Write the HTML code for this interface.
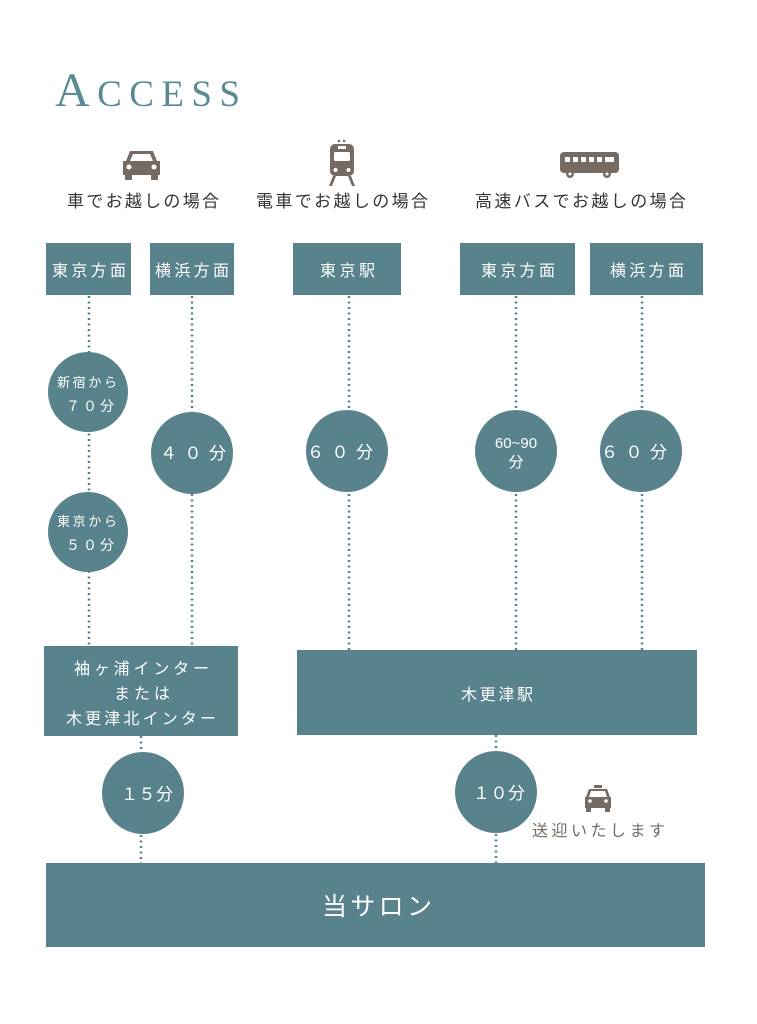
<!DOCTYPE html>
<html><head><meta charset="utf-8"><style>
html,body{margin:0;padding:0;background:#fff;}
svg{display:block}
text{font-family:"Liberation Sans","Noto Sans CJK JP",sans-serif;}
</style></head><body>
<svg width="757" height="1024" viewBox="0 0 757 1024" xmlns="http://www.w3.org/2000/svg">
<rect width="757" height="1024" fill="#fff"/>
<!-- Title -->
<text x="55" y="106" fill="#5a8b93" font-size="48" style="font-family:'Liberation Serif',serif" textLength="185" lengthAdjust="spacing">A<tspan font-size="37">CCESS</tspan></text>

<!-- car icon -->
<g fill="#756b62">
<path d="M130 151 h23 l4 10 h3 v14 h-37 v-14 h3z"/>
<rect x="125" y="172" width="7" height="8" rx="1"/>
<rect x="151" y="172" width="7" height="8" rx="1"/>
<path d="M133 154 h17 l3 7 h-23z" fill="#fff"/>
<circle cx="129" cy="167" r="2.5" fill="#fff"/><circle cx="154" cy="167" r="2.5" fill="#fff"/>
</g>
<!-- train icon -->
<g fill="#756b62">
<circle cx="339" cy="141" r="1.3"/><circle cx="344" cy="141" r="1.3"/>
<rect x="330" y="144" width="24" height="32" rx="5"/>
<rect x="334" y="152" width="16" height="9" rx="1.5" fill="#fff"/>
<rect x="338" y="146" width="8" height="3" fill="#fff"/>
<circle cx="335.5" cy="170" r="2" fill="#fff"/><circle cx="348.5" cy="170" r="2" fill="#fff"/>
<path d="M333 176 l-4 10 h3 l4 -10z M351 176 l4 10 h-3 l-4 -10z"/>
</g>
<!-- bus icon -->
<g fill="#756b62">
<rect x="560" y="152" width="59" height="21" rx="4"/>
<g fill="#fff"><rect x="565" y="157" width="5" height="5"/><rect x="573" y="157" width="5" height="5"/><rect x="581" y="157" width="5" height="5"/><rect x="589" y="157" width="5" height="5"/><rect x="597" y="157" width="5" height="5"/><rect x="605" y="157" width="9" height="5"/></g>
<circle cx="570" cy="174" r="4"/><circle cx="607" cy="174" r="4"/>
<circle cx="570" cy="174" r="1.5" fill="#fff"/><circle cx="607" cy="174" r="1.5" fill="#fff"/>
</g>
<g fill="#333" font-size="17">
<text x="67" y="207" textLength="152" lengthAdjust="spacing">車でお越しの場合</text>
<text x="256" y="207" textLength="172" lengthAdjust="spacing">電車でお越しの場合</text>
<text x="475" y="207" textLength="211" lengthAdjust="spacing">高速バスでお越しの場合</text>
</g>

<!-- dotted lines -->
<g stroke="#58838c" stroke-width="2.5" stroke-dasharray="2 3.5">
<line x1="89" y1="296" x2="89" y2="646"/>
<line x1="192" y1="296" x2="192" y2="646"/>
<line x1="349" y1="296" x2="349" y2="650"/>
<line x1="516" y1="296" x2="516" y2="650"/>
<line x1="642" y1="296" x2="642" y2="650"/>
<line x1="141" y1="736" x2="141" y2="863"/>
<line x1="496" y1="735" x2="496" y2="863"/>
</g>

<g fill="#58838c">
<rect x="46" y="243" width="85" height="52"/>
<rect x="150" y="243" width="84" height="52"/>
<rect x="293" y="243" width="108" height="52"/>
<rect x="460" y="243" width="115" height="52"/>
<rect x="590" y="243" width="113" height="52"/>
<circle cx="88" cy="392" r="40"/>
<circle cx="88" cy="532" r="40"/>
<circle cx="192" cy="453" r="41"/>
<circle cx="347" cy="451" r="41"/>
<circle cx="516" cy="451" r="41"/>
<circle cx="641" cy="451" r="41"/>
<rect x="44" y="646" width="194" height="90"/>
<rect x="297" y="650" width="400" height="85"/>
<circle cx="143" cy="793" r="41"/>
<circle cx="496" cy="792" r="41"/>
<rect x="46" y="863" width="659" height="84"/>
</g>

<g fill="#fff" font-size="16">
<text x="52" y="276" textLength="74" lengthAdjust="spacing">東京方面</text>
<text x="155" y="276" textLength="74" lengthAdjust="spacing">横浜方面</text>
<text x="320" y="276" textLength="55" lengthAdjust="spacing">東京駅</text>
<text x="481" y="276" textLength="74" lengthAdjust="spacing">東京方面</text>
<text x="610" y="276" textLength="74" lengthAdjust="spacing">横浜方面</text>
<text x="57" y="387" font-size="13" textLength="60" lengthAdjust="spacing">新宿から</text>
<text x="66" y="411" font-size="14" textLength="48" lengthAdjust="spacing">７０分</text>
<text x="57" y="526" font-size="13" textLength="60" lengthAdjust="spacing">東京から</text>
<text x="66" y="550" font-size="14" textLength="48" lengthAdjust="spacing">５０分</text>
<text x="160" y="459" font-size="17" textLength="66" lengthAdjust="spacing">４０分</text>
<text x="307" y="458" font-size="17" textLength="66" lengthAdjust="spacing">６０分</text>
<text x="516" y="448" font-size="15" text-anchor="middle">60~90</text>
<text x="516" y="467" font-size="15" text-anchor="middle">分</text>
<text x="601" y="458" font-size="17" textLength="66" lengthAdjust="spacing">６０分</text>
<text x="74" y="674" font-size="16" textLength="135" lengthAdjust="spacing">袖ヶ浦インター</text>
<text x="114" y="699" font-size="16" textLength="56" lengthAdjust="spacing">または</text>
<text x="66" y="724" font-size="16" textLength="150" lengthAdjust="spacing">木更津北インター</text>
<text x="461" y="700" font-size="16" textLength="72" lengthAdjust="spacing">木更津駅</text>
<text x="121" y="800" font-size="17" textLength="52" lengthAdjust="spacing">１５分</text>
<text x="473" y="799" font-size="17" textLength="52" lengthAdjust="spacing">１０分</text>
<text x="322" y="915" font-size="25" textLength="110" lengthAdjust="spacing">当サロン</text>
</g>

<!-- taxi -->
<g fill="#756b62">
<rect x="594" y="785" width="8" height="3"/>
<path d="M589 789 h18 l3 8 h1 v11 h-26 v-11 h1z"/>
<path d="M591 791 h14 l2 6 h-18z" fill="#fff"/>
<circle cx="590" cy="801" r="1.8" fill="#fff"/><circle cx="606" cy="801" r="1.8" fill="#fff"/>
<rect x="586" y="807" width="5" height="5"/><rect x="605" y="807" width="5" height="5"/>
</g>
<text x="532" y="836" fill="#756b62" font-size="16" textLength="133" lengthAdjust="spacing">送迎いたします</text>
</svg>
</body></html>
